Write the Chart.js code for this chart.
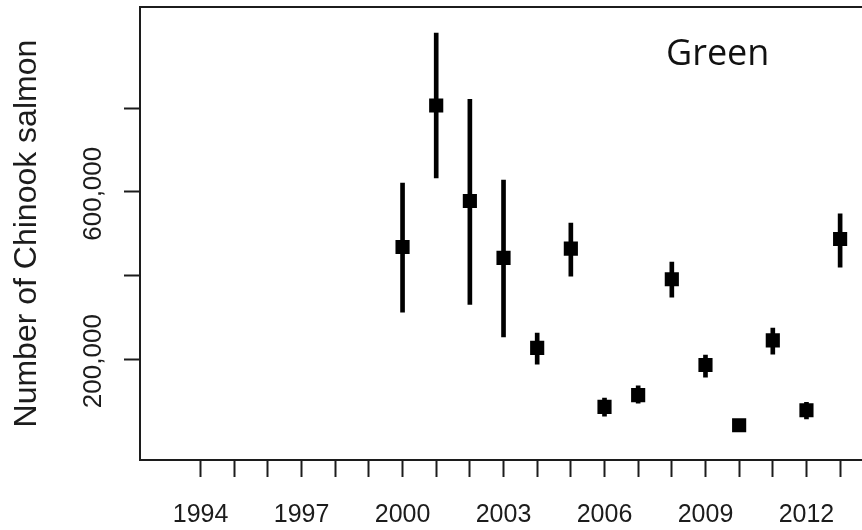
<!DOCTYPE html>
<html>
<head>
<meta charset="utf-8">
<script src="https://cdn.jsdelivr.net/npm/chart.js@4"></script>
<style>
  html, body { margin: 0; padding: 0; background: #fff; }
  #wrap { width: 862px; height: 530px; }
</style>
</head>
<body>
<div id="wrap"><canvas id="chart" width="862" height="530"></canvas></div>
<script>
// Green River Chinook salmon abundance estimates with error bars.
// Values.

const years     = [2000, 2001, 2002, 2003, 2004, 2005, 2006, 2007, 2008, 2009, 2010, 2011, 2012, 2013];
const estimates = [468000, 806000, 578000, 442000, 227000, 464000, 86000, 114000, 391000, 186000, 42000, 245000, 78000, 487000];
const lower     = [312000, 633000, 331000, 253000, 188000, 398000, 64000, 95000, 348000, 157000, 30000, 212000, 57000, 420000];
const upper     = [621000, 979000, 821000, 628000, 262000, 525000, 107000, 136000, 432000, 210000, 55000, 274000, 97000, 547000];

const xTickYears  = [1994, 1995, 1996, 1997, 1998, 1999, 2000, 2001, 2002, 2003,
                     2004, 2005, 2006, 2007, 2008, 2009, 2010, 2011, 2012, 2013];
const xLabelYears = [1994, 1997, 2000, 2003, 2006, 2009, 2012];
const yTickValues  = [200000, 400000, 600000, 800000];
const yLabelValues = [200000, 600000];

const PANEL = "Green";
const Y_TITLE = "Number of Chinook salmon";

const FONT = "'Liberation Sans', Arial, sans-serif";
const INK = "#1c1c1c";

function fmtNum(v) {
  return v.toLocaleString("en-US");
}

// rotated y labels (R style), placed through the y scale
const yLabelPlugin = {
  id: "yLabels",
  afterDraw(chart) {
    const ys = chart.scales.y;
    const ctx = chart.ctx;
    ctx.save();
    ctx.fillStyle = INK;
    ctx.font = "26px " + FONT;
    ctx.textAlign = "center";
    ctx.textBaseline = "middle";
    yLabelValues.forEach((v) => {
      ctx.save();
      ctx.translate(ys.right - 46, ys.getPixelForValue(v) + 2);
      ctx.rotate(-Math.PI / 2);
      ctx.fillText(fmtNum(v), 0, 0);
      ctx.restore();
    });
    ctx.restore();
  },
};

// panel name in the top right corner
const panelPlugin = {
  id: "panelName",
  afterDraw(chart) {
    const a = chart.chartArea;
    const ctx = chart.ctx;
    ctx.save();
    ctx.fillStyle = "#111";
    ctx.font = "36px 'Open Sans', sans-serif";
    ctx.textAlign = "left";
    ctx.textBaseline = "alphabetic";
    ctx.fillText(PANEL, a.right - 196, a.top + 58);
    ctx.restore();
  },
};

// x scales: fixed height, no extra side padding for end labels
function fitX(h) {
  return (s) => {
    s.height = h;
    s.paddingLeft = 0;
    s.paddingRight = 0;
  };
}

const errData = years.map((y, i) => ({ x: y, y: [lower[i], upper[i]] }));
const ptData = years.map((y, i) => ({ x: y, y: estimates[i] }));

new Chart(document.getElementById("chart"), {
  data: {
    datasets: [
      {
        type: "bar",
        label: "range",
        data: errData,
        backgroundColor: "#000",
        borderWidth: 0,
        barThickness: 4,
        order: 2,
      },
      {
        type: "scatter",
        label: "estimate",
        data: ptData,
        pointStyle: "rect",
        pointRadius: 10,
        pointHoverRadius: 10,
        backgroundColor: "#000",
        borderWidth: 0,
        order: 1,
      },
    ],
  },
  options: {
    responsive: false,
    animation: false,
    layout: { autoPadding: false, padding: { top: 7, right: 0, bottom: 0, left: 0 } },
    plugins: { legend: { display: false }, tooltip: { enabled: false } },
    scales: {
      x: {
        type: "linear",
        position: "bottom",
        offset: false,
        min: 1992.2,
        max: 2013.65,
        afterBuildTicks: (s) => { s.ticks = xTickYears.map((v) => ({ value: v })); },
        afterFit: fitX(70),
        ticks: {
          autoSkip: false,
          maxRotation: 0,
          padding: 23,
          color: INK,
          font: { family: FONT, size: 25 },
          callback: (v) => (xLabelYears.includes(v) ? String(v) : ""),
        },
        grid: { offset: false, drawOnChartArea: false, tickLength: 17, tickWidth: 2, tickColor: INK },
        border: { display: true, width: 2, color: INK },
      },
      xTop: {
        type: "linear",
        position: "top",
        offset: false,
        min: 1992.2,
        max: 2013.65,
        afterFit: fitX(0),
        ticks: { display: false },
        grid: { display: false },
        border: { display: true, width: 2, color: INK },
      },
      y: {
        type: "linear",
        position: "left",
        min: -41000,
        max: 1041000,
        afterBuildTicks: (s) => { s.ticks = yTickValues.map((v) => ({ value: v })); },
        afterFit: (s) => { s.width = 140; },
        ticks: { callback: () => "", padding: 0 },
        grid: { drawOnChartArea: false, tickLength: 16, tickWidth: 2, tickColor: INK },
        border: { display: true, width: 2, color: INK },
        title: {
          display: true,
          text: Y_TITLE,
          color: INK,
          font: { family: FONT, size: 32 },
          padding: { top: 8, bottom: 0 },
        },
      },
    },
  },
  plugins: [yLabelPlugin, panelPlugin],
});
</script>
</body>
</html>
